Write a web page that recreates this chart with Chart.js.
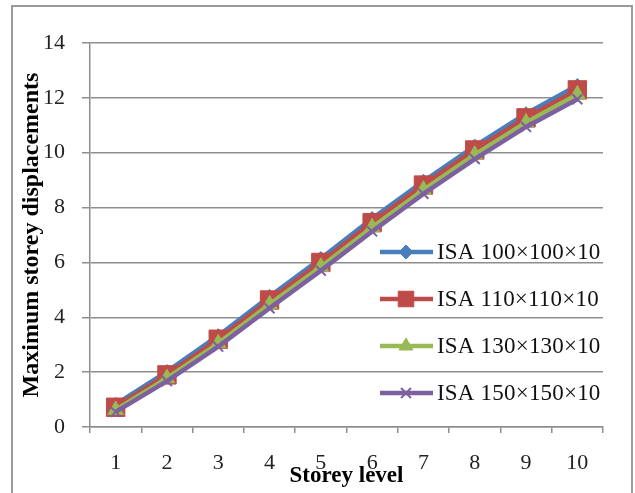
<!DOCTYPE html>
<html>
<head>
<meta charset="utf-8">
<script src="https://cdn.jsdelivr.net/npm/chart.js@4"></script>
<style>
html,body{margin:0;padding:0;background:#fff;}
#wrap{width:635px;height:493px;}
</style>
</head>
<body>
<div id="wrap"><canvas id="c" width="635" height="493"></canvas></div>
<script>
const categories = ['1','2','3','4','5','6','7','8','9','10'];
const seriesNames = ['ISA 100×100×10','ISA 110×110×10','ISA 130×130×10','ISA 150×150×10'];
const isa100 = [0.82, 2.02, 3.33, 4.76, 6.14, 7.60, 8.96, 10.24, 11.42, 12.45];
const isa110 = [0.72, 1.90, 3.20, 4.63, 6.00, 7.45, 8.82, 10.10, 11.27, 12.29];
const isa130 = [0.62, 1.78, 3.05, 4.47, 5.84, 7.28, 8.65, 9.93, 11.10, 12.12];
const isa150 = [0.55, 1.67, 2.93, 4.33, 5.70, 7.13, 8.50, 9.77, 10.94, 11.95];
const yTicks = [0, 2, 4, 6, 8, 10, 12, 14];
const xTitle = 'Storey level';
const yTitle = 'Maximum storey displacements';

const colors = ['#4A7EBB', '#BE4B48', '#98B954', '#7D60A0'];
const styles = ['rectRot', 'rect', 'triangle', 'crossRot'];
const radii = [7, 13, 9, 7];
const values = [isa100, isa110, isa130, isa150];

const serif = "'Liberation Serif', 'DejaVu Serif', serif";

const datasets = values.map((v, i) => ({
  label: seriesNames[i],
  data: v,
  borderColor: colors[i],
  backgroundColor: colors[i],
  pointBackgroundColor: colors[i],
  pointBorderColor: colors[i],
  pointStyle: styles[i],
  pointRadius: radii[i],
  pointBorderWidth: i === 3 ? 2 : 1,
  borderWidth: 4.5,
  tension: 0,
  order: 4 - i
}));

const frame = {
  id: 'frame',
  beforeDraw(chart) {
    const ctx = chart.ctx;
    ctx.save();
    ctx.fillStyle = '#fff';
    ctx.fillRect(0, 0, chart.width, chart.height);
    ctx.strokeStyle = '#9a9a9a';
    ctx.lineWidth = 2;
    ctx.strokeRect(12, 6, 620, 600);
    ctx.restore();
  }
};

const inlineLegend = {
  id: 'inlineLegend',
  afterDatasetsDraw(chart) {
    const ctx = chart.ctx;
    const ys = [252, 299, 346, 393];
    ctx.save();
    chart.data.datasets.forEach((ds, i) => {
      const y = ys[i];
      ctx.strokeStyle = ds.borderColor;
      ctx.lineWidth = 4.5;
      ctx.beginPath();
      ctx.moveTo(380, y);
      ctx.lineTo(433, y);
      ctx.stroke();
      ctx.fillStyle = ds.pointBackgroundColor;
      ctx.strokeStyle = ds.pointBorderColor;
      ctx.lineWidth = ds.pointBorderWidth;
      const r = ds.pointStyle === 'rect' ? 11 : (ds.pointStyle === 'triangle' ? 8 : 7);
      Chart.helpers.drawPoint(ctx, {pointStyle: ds.pointStyle, radius: r, rotation: 0, borderWidth: ds.pointBorderWidth}, 406, y);
      ctx.fillStyle = '#111';
      ctx.font = "23px " + serif;
      if ('letterSpacing' in ctx) ctx.letterSpacing = '0.2px';
      ctx.textBaseline = 'middle';
      ctx.textAlign = 'left';
      ctx.fillText(ds.label, 437, y + 1);
      if ('letterSpacing' in ctx) ctx.letterSpacing = '0px';
    });
    ctx.restore();
  }
};

new Chart(document.getElementById('c'), {
  type: 'line',
  data: { labels: categories, datasets },
  plugins: [frame, inlineLegend],
  options: {
    responsive: false,
    animation: false,
    layout: { padding: { left: 0, top: 43, right: 32, bottom: 0 } },
    plugins: { legend: { display: false }, tooltip: { enabled: false } },
    scales: {
      x: {
        type: 'category',
        offset: true,
        grid: { offset: true, drawOnChartArea: false, drawTicks: true, tickLength: 6, color: '#8e8e8e', lineWidth: 1.5 },
        border: { display: true, color: '#8e8e8e', width: 1.5 },
        ticks: { color: '#222', font: { family: serif, size: 22 }, padding: 17, maxRotation: 0, autoSkip: false },
        title: { display: true, text: xTitle, color: '#000', font: { family: serif, size: 23, weight: 'bold' }, padding: { top: 0, bottom: 3 } },
        afterFit(scale) { scale.height = 66; }
      },
      y: {
        min: 0, max: 14,
        afterBuildTicks(scale) { scale.ticks = yTicks.map(v => ({ value: v })); },
        grid: { drawTicks: true, tickLength: 8, color: '#8e8e8e', lineWidth: 1.5 },
        border: { display: true, color: '#8e8e8e', width: 1.5 },
        ticks: { color: '#222', font: { family: serif, size: 22 }, padding: 17 },
        title: { display: true, text: yTitle, color: '#000', font: { family: serif, size: 24, weight: 'bold' }, padding: { top: 17, bottom: 0 } },
        afterFit(scale) { scale.width = 90; }
      }
    }
  }
});
</script>
</body>
</html>
